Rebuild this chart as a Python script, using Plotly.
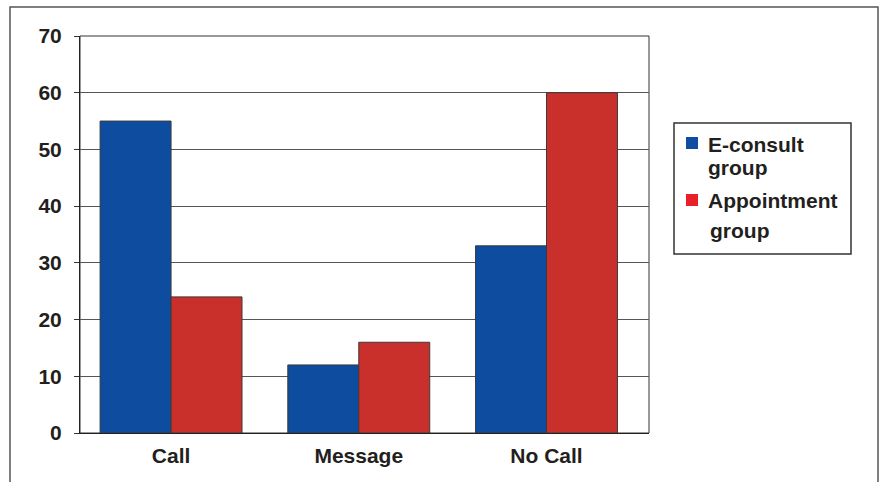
import plotly.graph_objects as go

# Data
categories = ["Call", "Message", "No Call"]
econsult = [55, 12, 33]
appointment = [24, 16, 60]
series_names = ["E-consult", "Appointment"]
y_ticks = [0, 10, 20, 30, 40, 50, 60, 70]

W, H = 880, 482
PL, PR, PT, PB = 80, 649, 36, 433  # plot area in pixels

BLUE = "#0D4C9E"
RED = "#C9302C"
LEG_BLUE = "#0F4CA3"
LEG_RED = "#E8202A"
TEXT = "#231F20"
FONT = "Liberation Sans, Arial, sans-serif"
FS = 21


def px(x):
    return (x - PL) / (PR - PL)


def py(y):
    return (PB - y) / (PB - PT)


def b(s):
    return f"<b>{s}</b>"


fig = go.Figure()
fig.add_bar(x=categories, y=econsult, name=series_names[0],
            marker=dict(color=BLUE, line=dict(color="#3a3a3a", width=1)))
fig.add_bar(x=categories, y=appointment, name=series_names[1],
            marker=dict(color=RED, line=dict(color="#3a3a3a", width=1)))

shapes = [
    # outer frame
    dict(type="rect", xref="paper", yref="paper",
         x0=px(10), x1=px(878), y0=py(7), y1=py(520),
         line=dict(color="#555555", width=1.5), fillcolor="rgba(0,0,0,0)", layer="below"),
    # plot area border
    dict(type="rect", xref="paper", yref="paper",
         x0=0, x1=1, y0=0, y1=1,
         line=dict(color="#333333", width=1), fillcolor="rgba(0,0,0,0)", layer="below"),
    # legend box
    dict(type="rect", xref="paper", yref="paper",
         x0=px(674), x1=px(851), y0=py(123), y1=py(254),
         line=dict(color="#333333", width=1.5), fillcolor="white"),
    # legend swatches
    dict(type="rect", xref="paper", yref="paper",
         x0=px(686), x1=px(698), y0=py(137), y1=py(149),
         line=dict(width=0), fillcolor=LEG_BLUE),
    dict(type="rect", xref="paper", yref="paper",
         x0=px(686), x1=px(698), y0=py(194), y1=py(206),
         line=dict(width=0), fillcolor=LEG_RED),
]

legend_lines = [
    (series_names[0], 706, 144),
    ("group", 706, 167),
    (series_names[1], 706, 200),
    ("group", 708, 231),
]
annotations = [
    dict(text=b(t), xref="paper", yref="paper", x=px(xp), y=py(yp),
         xanchor="left", yanchor="middle", showarrow=False,
         font=dict(family=FONT, size=FS, color=TEXT))
    for t, xp, yp in legend_lines
]

fig.update_layout(
    width=W, height=H,
    margin=dict(l=PL, r=W - PR, t=PT, b=H - PB, pad=0),
    paper_bgcolor="white", plot_bgcolor="white",
    barmode="group", bargap=0.244, bargroupgap=0,
    showlegend=False,
    font=dict(family=FONT, size=FS, color=TEXT),
    xaxis=dict(range=[-0.485, 2.546], showgrid=False, ticks="",
               tickvals=categories, ticktext=[b(c) for c in categories],
               showline=True, linecolor="#222222", linewidth=1,
               tickfont=dict(size=FS, color=TEXT), ticklabelstandoff=4),
    yaxis=dict(range=[0, 70], tickvals=y_ticks,
               ticktext=[b(v) for v in y_ticks], showgrid=True,
               gridcolor="#555555", gridwidth=1, zeroline=False,
               showline=True, linecolor="#222222", linewidth=1,
               ticks="outside", ticklen=5, tickcolor="#333333",
               tickfont=dict(size=FS, color=TEXT), ticklabelstandoff=8),
    shapes=shapes, annotations=annotations,
)

fig.write_html("out.html")
